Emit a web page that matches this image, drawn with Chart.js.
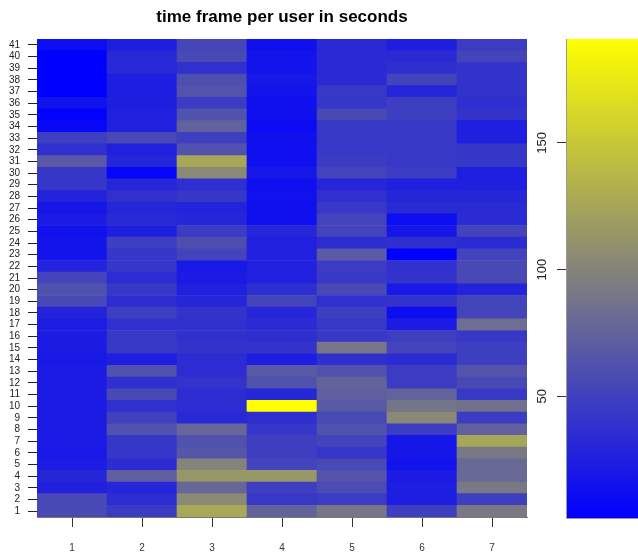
<!DOCTYPE html>
<html>
<head>
<meta charset="utf-8">
<title>time frame per user in seconds</title>
<script src="https://cdn.jsdelivr.net/npm/chart.js@4/dist/chart.umd.min.js"></script>
<style>
  html, body { margin: 0; padding: 0; background: #fff; }
  #wrap { position: relative; width: 638px; height: 557px; overflow: hidden; }
  #heat { position: absolute; left: 0; top: 0; }
  #scale { position: absolute; left: 500px; top: 0; }
</style>
</head>
<body>
<div id="wrap">
  <canvas id="heat" width="564" height="557"></canvas>
  <canvas id="scale" width="138" height="557"></canvas>
</div>
<script>
// x categories (users) and y rows (time frames)
var users = ["1", "2", "3", "4", "5", "6", "7"];
var frames = [1, 2, 3, 4, 5, 6, 7, 8, 9, 10, 11, 12, 13, 14, 15, 16, 17, 18, 19, 20,
  21, 22, 23, 24, 25, 26, 27, 28, 29, 30, 31, 32, 33, 34, 35, 36, 37, 38, 39, 40, 41];
var legendTicks = [50, 100, 150];

// seconds per time frame, one list per user, frame 1 first
var user1 = [56, 56, 26, 30, 23, 20, 22, 22, 22, 22, 22, 22, 22, 20, 22, 23, 23, 28, 56, 62,
  52, 28, 16, 16, 15, 22, 18, 28, 42, 42, 68, 38, 48, 8, 3, 15, 2, 2, 2, 2, 12];
var user2 = [45, 35, 30, 72, 35, 42, 42, 62, 50, 38, 56, 38, 62, 24, 44, 44, 38, 48, 35, 44,
  35, 42, 42, 48, 24, 33, 30, 38, 30, 6, 30, 26, 56, 26, 26, 24, 24, 24, 32, 32, 24];
var user3 = [127, 104, 78, 114, 100, 66, 62, 78, 32, 35, 35, 40, 35, 35, 40, 38, 38, 40, 30, 26,
  22, 20, 52, 60, 46, 30, 28, 43, 36, 104, 126, 62, 48, 74, 62, 46, 64, 60, 38, 56, 54];
var user4 = [76, 44, 48, 114, 52, 48, 48, 42, 36, 191, 30, 62, 68, 24, 40, 36, 34, 30, 52, 36,
  26, 26, 26, 26, 30, 13, 14, 15, 13, 19, 13, 13, 14, 10, 14, 14, 16, 19, 16, 16, 14];
var user5 = [90, 46, 58, 64, 56, 42, 52, 62, 56, 68, 72, 76, 62, 38, 90, 44, 44, 48, 38, 56,
  44, 46, 68, 35, 52, 52, 44, 38, 30, 52, 46, 44, 44, 44, 56, 42, 44, 33, 33, 33, 33];
var user6 = [48, 24, 24, 22, 16, 18, 18, 46, 104, 89, 76, 46, 46, 34, 52, 48, 22, 12, 40, 20,
  40, 38, 2, 37, 18, 12, 33, 30, 26, 46, 44, 44, 44, 44, 48, 48, 30, 52, 37, 33, 24];
var user7 = [92, 48, 92, 80, 80, 92, 125, 74, 46, 86, 44, 56, 64, 48, 48, 44, 84, 52, 52, 28,
  56, 56, 52, 34, 52, 34, 33, 30, 25, 25, 43, 43, 25, 25, 40, 37, 40, 40, 40, 52, 46];

var series = [user1, user2, user3, user4, user5, user6, user7];
var all = [].concat.apply([], series);
var zMin = Math.min.apply(null, all);
var zMax = Math.max.apply(null, all);

Chart.defaults.font.family = "'Liberation Sans', Arial, sans-serif";

// blue -> grey -> yellow ramp
function colour(v) {
  var t = (v - zMin) / (zMax - zMin);
  var r, b;
  if (t < 0.5) {
    var s = t / 0.5;
    r = 127 * s; b = 255 - 128 * s;
  } else {
    var s2 = (t - 0.5) / 0.5;
    r = 127 + 128 * s2; b = 127 - 127 * s2;
  }
  return "rgb(" + Math.round(r) + "," + Math.round(r) + "," + Math.round(b) + ")";
}

var datasets = frames.map(function (f, i) {
  return {
    label: "frame " + f,
    data: users.map(function () { return [f - 0.5, f + 0.5]; }),
    backgroundColor: series.map(function (s) { return colour(s[i]); }),
    borderWidth: 0,
    barPercentage: 1,
    categoryPercentage: 1,
    grouped: false
  };
});

new Chart(document.getElementById("heat"), {
  type: "bar",
  data: { labels: users, datasets: datasets },
  options: {
    responsive: false,
    animation: false,
    layout: { padding: { left: 9, right: 37, top: 0, bottom: 3 } },
    plugins: {
      legend: { display: false },
      tooltip: { enabled: false },
      title: {
        display: true,
        fullSize: false,
        text: "time frame per user in seconds",
        color: "#000",
        font: { size: 17, weight: "bold" },
        padding: { top: 7, bottom: 11.6 }
      }
    },
    scales: {
      x: {
        afterFit: function (axis) { axis.height = 37; },
        grid: { offset: false, drawOnChartArea: false, tickLength: 10, color: "#333" },
        border: { color: "#777" },
        ticks: { padding: 15, color: "#333", font: { size: 10 } }
      },
      y: {
        type: "linear",
        min: 0.5,
        max: 41.5,
        afterFit: function (axis) { axis.width = 28; },
        afterBuildTicks: function (axis) {
          axis.ticks = frames.map(function (f) { return { value: f }; });
        },
        grid: { drawOnChartArea: false, tickLength: 9, color: "#222" },
        border: { color: "#8888cc" },
        ticks: { autoSkip: false, padding: 8, color: "#222", font: { size: 10 } }
      }
    }
  }
});

var gradientBar = {
  id: "gradientBar",
  beforeDatasetsDraw: function (chart) {
    var a = chart.chartArea, y = chart.scales.y, ctx = chart.ctx;
    var g = ctx.createLinearGradient(0, y.getPixelForValue(zMin), 0, y.getPixelForValue(zMax));
    g.addColorStop(0, colour(zMin));
    g.addColorStop(0.5, colour((zMin + zMax) / 2));
    g.addColorStop(1, colour(zMax));
    ctx.save();
    ctx.fillStyle = g;
    ctx.fillRect(a.left, a.top, a.right - a.left, a.bottom - a.top);
    ctx.strokeStyle = "#999";
    ctx.lineWidth = 1;
    ctx.beginPath();
    ctx.moveTo(a.left + 0.5, a.top);
    ctx.lineTo(a.left + 0.5, a.bottom + 0.5);
    ctx.lineTo(a.right, a.bottom + 0.5);
    ctx.stroke();
    ctx.fillStyle = "#222";
    ctx.font = "13px 'Liberation Sans', Arial, sans-serif";
    ctx.textAlign = "center";
    ctx.textBaseline = "middle";
    legendTicks.forEach(function (v) {
      ctx.save();
      ctx.translate(a.left - 24, y.getPixelForValue(v));
      ctx.rotate(-Math.PI / 2);
      ctx.fillText(String(v), 0, 0);
      ctx.restore();
    });
    ctx.restore();
  }
};

new Chart(document.getElementById("scale"), {
  type: "bar",
  data: { labels: [""], datasets: [] },
  options: {
    responsive: false,
    animation: false,
    layout: { padding: { left: 57, right: 0, top: 39, bottom: 39 } },
    plugins: { legend: { display: false }, tooltip: { enabled: false } },
    scales: {
      x: { display: false },
      y: {
        min: zMin,
        max: zMax,
        afterBuildTicks: function (axis) {
          axis.ticks = legendTicks.map(function (v) { return { value: v }; });
        },
        grid: { drawOnChartArea: false, tickLength: 9, color: "#333" },
        border: { display: false },
        ticks: { display: false }
      }
    }
  },
  plugins: [gradientBar]
});
</script>
</body>
</html>
